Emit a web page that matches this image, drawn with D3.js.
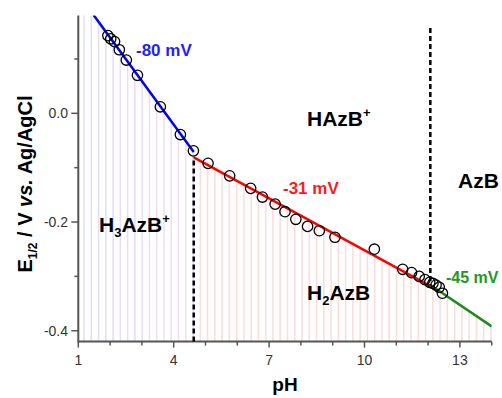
<!DOCTYPE html>
<html><head><meta charset="utf-8">
<script src="https://cdn.jsdelivr.net/npm/d3@7"></script>
<style>body{margin:0;background:#fff}svg{display:block}text{font-family:Arial,"Liberation Sans",sans-serif}</style>
</head><body>
<svg id="c" width="502" height="398"></svg>
<script>
// Measured data points
const dataPH = [1.93,2.02,2.14,2.29,2.51,2.86,3.58,4.21,4.62,5.08,5.76,6.42,6.79,7.19,7.50,7.84,8.21,8.58,9.07,10.31,11.20,11.48,11.72,11.90,12.05,12.15,12.25,12.35,12.45];
const dataE  = [0.143,0.137,0.132,0.117,0.098,0.070,0.012,-0.039,-0.069,-0.092,-0.115,-0.138,-0.154,-0.167,-0.181,-0.195,-0.208,-0.216,-0.228,-0.250,-0.287,-0.293,-0.300,-0.306,-0.311,-0.313,-0.316,-0.320,-0.331];
// Fitted segments
const fitBluePH = [1.48, 4.63],  fitBlueE = [0.181, -0.071];
const fitRedPH  = [4.63, 12.07], fitRedE  = [-0.081, -0.318];
const fitGreenPH= [12.07, 14.0], fitGreenE= [-0.316, -0.392];
// pKa boundaries
const pKa = [4.63, 12.07];
// ticks
const xMajor = [1,4,7,10,13];
const xMinor = [2,3,5,6,8,9,11,12,14];
const yMajor = [0.0,-0.2,-0.4];
const yMinor = [0.1,-0.1,-0.3];
const hatchStart = 1.18, hatchStep = 0.2285;

const svg = d3.select("#c");
const x = d3.scaleLinear().domain([1,14]).range([78.3,491.7]);
const y = d3.scaleLinear().domain([-0.42,0.18]).range([341.6,15.5]);

function fitAt(p){
  const seg = p<=fitBluePH[1] ? [fitBluePH,fitBlueE] : (p<=fitRedPH[1] ? [fitRedPH,fitRedE] : [fitGreenPH,fitGreenE]);
  const t = (p-seg[0][0])/(seg[0][1]-seg[0][0]);
  return seg[1][0] + t*(seg[1][1]-seg[1][0]);
}
// hatch
const hatch = d3.range(hatchStart, 14.0, hatchStep);
const leftCol = d3.interpolateRgb("#dedeff","#f3dff2");
svg.append("g").selectAll("line").data(hatch).join("line")
  .attr("x1",d=>x(d)).attr("x2",d=>x(d))
  .attr("y1",y(-0.42)).attr("y2",d=>Math.max(y(0.18), y(fitAt(d))))
  .attr("stroke",d=> d < pKa[0]-0.01 ? leftCol((d-1)/(pKa[0]-1)) : "#ffdcdc")
  .attr("stroke-width",1.6);

// axes
const axisCol = "#555";
const g = svg.append("g");
g.append("line").attr("x1",x(1)).attr("x2",x(14)).attr("y1",y(-0.42)).attr("y2",y(-0.42)).attr("stroke",axisCol).attr("stroke-width",2);
g.append("line").attr("x1",x(1)).attr("x2",x(1)).attr("y1",y(-0.42)+1).attr("y2",y(0.18)).attr("stroke",axisCol).attr("stroke-width",2);
g.selectAll(".xM").data(xMajor).join("line").attr("x1",d=>x(d)).attr("x2",d=>x(d)).attr("y1",y(-0.42)).attr("y2",y(-0.42)+6).attr("stroke",axisCol).attr("stroke-width",1.5);
g.selectAll(".xm").data(xMinor).join("line").attr("x1",d=>x(d)).attr("x2",d=>x(d)).attr("y1",y(-0.42)).attr("y2",y(-0.42)+4).attr("stroke",axisCol).attr("stroke-width",1.5);
g.selectAll(".yM").data(yMajor).join("line").attr("x1",x(1)-7).attr("x2",x(1)).attr("y1",d=>y(d)).attr("y2",d=>y(d)).attr("stroke",axisCol).attr("stroke-width",1.5);
g.selectAll(".ym").data(yMinor).join("line").attr("x1",x(1)-4).attr("x2",x(1)).attr("y1",d=>y(d)).attr("y2",d=>y(d)).attr("stroke",axisCol).attr("stroke-width",1.5);
g.selectAll(".xl").data(xMajor).join("text").attr("x",d=>x(d)).attr("y",365).attr("text-anchor","middle").attr("font-size",14).attr("fill","#333").text(d=>d);
g.selectAll(".yl").data(yMajor).join("text").attr("x",68).attr("y",d=>y(d)+5).attr("text-anchor","end").attr("font-size",14).attr("fill","#333").text(d=>d3.format(".1f")(d).replace("−","-"));

// dashed boundaries
svg.append("line").attr("x1",x(pKa[0])).attr("x2",x(pKa[0])).attr("y1",y(-0.42)).attr("y2",y(fitRedE[0])).attr("stroke","#000").attr("stroke-width",2.5).attr("stroke-dasharray","5,3");
svg.append("line").attr("x1",x(pKa[1])).attr("x2",x(pKa[1])).attr("y1",28).attr("y2",y(fitGreenE[0])).attr("stroke","#000").attr("stroke-width",2.5).attr("stroke-dasharray","5,3");

// fit lines
const line = d3.line().x(d=>x(d[0])).y(d=>y(d[1]));
svg.append("clipPath").attr("id","cp").append("rect").attr("x",x(1)).attr("y",y(0.18)).attr("width",x(14)-x(1)).attr("height",y(-0.42)-y(0.18));
const fl = svg.append("g").attr("clip-path","url(#cp)");
fl.append("path").attr("d",line(d3.zip(fitBluePH,fitBlueE))).attr("stroke","#0000ff").attr("stroke-width",2.5).attr("fill","none");
fl.append("path").attr("d",line(d3.zip(fitRedPH,fitRedE))).attr("stroke","#ff0000").attr("stroke-width",2.5).attr("fill","none");
fl.append("path").attr("d",line(d3.zip(fitGreenPH,fitGreenE))).attr("stroke","#1a8c1a").attr("stroke-width",2.5).attr("fill","none");

// points
svg.append("g").selectAll("circle").data(d3.zip(dataPH,dataE)).join("circle")
  .attr("cx",d=>x(d[0])).attr("cy",d=>y(d[1])).attr("r",5.2)
  .attr("fill","none").attr("stroke","#000").attr("stroke-width",1.3);

// annotations
function label(xp, yp, size, color, parts){
  const t = svg.append("text").attr("x",xp).attr("y",yp).attr("font-size",size).attr("font-weight","bold").attr("fill",color);
  parts.forEach(p=>{
    const s = t.append("tspan").text(p.t);
    if(p.sub){ s.attr("font-size",size*0.62).attr("dy",p.sub); }
    if(p.back){ s.attr("dy",p.back); }
    if(p.it){ s.attr("font-style","italic"); }
  });
  return t;
}
label(136,56,17,"#1f1fff",[{t:"-80 mV"}]);
label(283,194,17,"#ff1a1a",[{t:"-31 mV"}]);
label(446,283,16,"#229922",[{t:"-45 mV"}]);
label(307,126,21,"#000",[{t:"HAzB"},{t:"+",sub:-9}]);
label(458,188,21,"#000",[{t:"AzB"}]);
label(99,232,21,"#000",[{t:"H"},{t:"3",sub:5},{t:"AzB",back:-5},{t:"+",sub:-9}]);
label(307,300,21,"#000",[{t:"H"},{t:"2",sub:5},{t:"AzB",back:-5}]);
svg.append("text").attr("x",285).attr("y",391).attr("text-anchor","middle").attr("font-size",19).attr("font-weight","bold").text("pH");
const yl = svg.append("text").attr("transform","translate(32,184) rotate(-90)").attr("text-anchor","middle").attr("font-size",20).attr("font-weight","bold");
yl.append("tspan").text("E");
yl.append("tspan").text("1/2").attr("font-size",12).attr("dy",5);
yl.append("tspan").text(" / V ").attr("dy",-5);
yl.append("tspan").text("vs.").attr("font-style","italic");
yl.append("tspan").text(" Ag/AgCl");
</script>
</body></html>
